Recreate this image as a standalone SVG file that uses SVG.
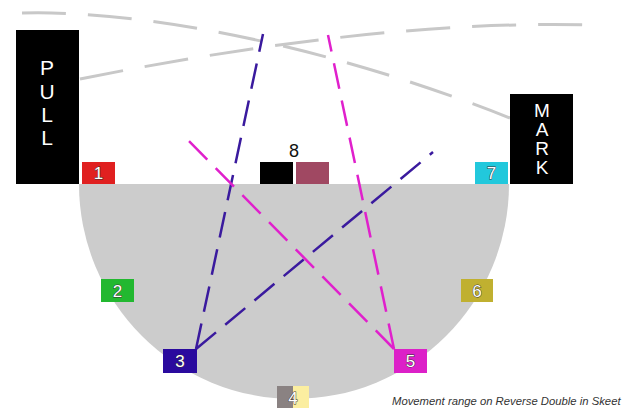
<svg xmlns="http://www.w3.org/2000/svg" width="624" height="408" viewBox="0 0 624 408">
  <style>
    .station { stroke: none; }
    .num { font-family: "Liberation Sans", Arial, sans-serif; font-size: 17px; fill: #ffffff; stroke: #333333; stroke-width: 0.9px; paint-order: stroke; text-anchor: middle; }
    .house { fill: #000000; }
    .houseText { font-family: "Liberation Sans", Arial, sans-serif; fill: #ffffff; text-anchor: middle; }
    .arc { fill: none; stroke: #c8c8c8; stroke-width: 3; stroke-dasharray: 44 22; stroke-linecap: butt; }
    .blue { fill: none; stroke: #3a1a9e; stroke-width: 2.5; stroke-dasharray: 26 12; }
    .pink { fill: none; stroke: #e020cc; stroke-width: 2.5; stroke-dasharray: 26 12; }
    .caption { font-family: "Liberation Sans", Arial, sans-serif; font-size: 11.3px; font-style: italic; fill: #333333; }
  </style>

  <rect width="624" height="408" fill="#ffffff"/>

  <!-- field half-disc -->
  <path id="field" d="M79,184 A215,215 0 0 0 509,184 Z" fill="#cccccc"/>

  <!-- target flight paths and shooting angles -->
  <g id="connectors">
    <path class="arc" d="M22,13 C120,10 300,35 510,118"/>
    <path class="arc" d="M80,79 C200,55 400,20 590,25"/>
    <line class="blue" x1="196" y1="349" x2="263" y2="34"/>
    <line class="blue" x1="196" y1="349" x2="433" y2="152"/>
    <line class="pink" x1="394" y1="349" x2="328" y2="35"/>
    <line class="pink" x1="394" y1="349" x2="188" y2="140"/>
  </g>

  <!-- high house -->
  <g id="pull">
    <rect class="house" x="16" y="30" width="63" height="154"/>
    <g class="houseText" font-size="21">
      <text x="47" y="75">P</text>
      <text x="47" y="99">U</text>
      <text x="47" y="122">L</text>
      <text x="47" y="145">L</text>
    </g>
  </g>

  <!-- low house -->
  <g id="mark">
    <rect class="house" x="510" y="94" width="63" height="90"/>
    <g class="houseText" font-size="19">
      <text x="542" y="117">M</text>
      <text x="542" y="136">A</text>
      <text x="542" y="155">R</text>
      <text x="542" y="174">K</text>
    </g>
  </g>

  <g id="station1">
    <rect class="station" x="82" y="162" width="33" height="22" fill="#e02020"/>
    <text class="num" x="98.5" y="179">1</text>
  </g>

  <g id="station2">
    <rect class="station" x="101" y="279" width="33" height="23" fill="#22b830"/>
    <text class="num" x="117.5" y="297">2</text>
  </g>

  <g id="station3">
    <rect class="station" x="163" y="349" width="34" height="24" fill="#2a0a9e"/>
    <text class="num" x="180" y="367">3</text>
  </g>

  <g id="station4">
    <rect class="station" x="277" y="386" width="16" height="22" fill="#8a8282"/>
    <rect class="station" x="293" y="386" width="16" height="22" fill="#fbeea0"/>
    <text class="num" x="293" y="404">4</text>
  </g>

  <g id="station5">
    <rect class="station" x="394" y="349" width="33" height="24" fill="#dc20c8"/>
    <text class="num" x="410.5" y="367">5</text>
  </g>

  <g id="station6">
    <rect class="station" x="461" y="279" width="32" height="23" fill="#c0b030"/>
    <text class="num" x="477" y="297">6</text>
  </g>

  <g id="station7">
    <rect class="station" x="475" y="162" width="33" height="22" fill="#22c8dc"/>
    <text class="num" x="491.5" y="179">7</text>
  </g>

  <g id="station8">
    <rect class="station" x="260" y="162" width="33" height="22" fill="#000000"/>
    <rect class="station" x="296" y="162" width="33" height="22" fill="#a04862"/>
    <text x="294" y="157" font-family="Liberation Sans, Arial, sans-serif" font-size="18" fill="#111111" text-anchor="middle">8</text>
  </g>

  <text class="caption" x="392" y="405">Movement range on Reverse Double in Skeet</text>
</svg>
